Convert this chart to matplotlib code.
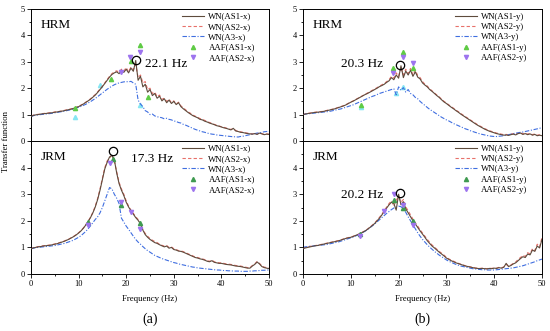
import numpy as np
import matplotlib
matplotlib.use("Agg")
from matplotlib import pyplot as plt
from matplotlib.ticker import MultipleLocator

plt.rcParams['font.family'] = ['Liberation Serif', 'DejaVu Serif']

# frequency grid of the white noise curves (Hz)
freq = np.arange(0, 50.25, 0.5)

# ---- (a) top: HRM, x direction
hrm_x_as1 = [0.93, 0.97, 0.99, 1.00, 1.02, 1.03, 1.04, 1.05, 1.06, 1.07,
             1.09, 1.10, 1.12, 1.13, 1.15, 1.17, 1.19, 1.21, 1.24, 1.27,
             1.30, 1.35, 1.40, 1.46, 1.52, 1.58, 1.66, 1.74, 1.84, 1.95,
             2.06, 2.18, 2.30, 2.42, 2.52, 2.58, 2.62, 2.55, 2.68, 2.60,
             2.72, 2.58, 2.76, 2.64, 3.05, 2.30, 2.45, 2.05, 2.15, 1.85,
             1.95, 1.72, 1.80, 1.62, 1.70, 1.52, 1.60, 1.45, 1.55, 1.42,
             1.50, 1.38, 1.45, 1.30, 1.22, 1.15, 1.08, 1.02, 0.96, 0.92,
             0.88, 0.82, 0.80, 0.75, 0.72, 0.68, 0.65, 0.62, 0.58, 0.56,
             0.53, 0.50, 0.48, 0.45, 0.42, 0.48, 0.38, 0.36, 0.33, 0.32,
             0.30, 0.28, 0.27, 0.26, 0.28, 0.25, 0.30, 0.27, 0.24, 0.26,
             0.25]
hrm_x_as2 = [0.95, 0.98, 1.00, 1.01, 1.02, 1.04, 1.05, 1.06, 1.07, 1.08,
             1.10, 1.11, 1.12, 1.14, 1.16, 1.18, 1.20, 1.22, 1.25, 1.28,
             1.32, 1.36, 1.41, 1.47, 1.53, 1.60, 1.68, 1.76, 1.86, 1.97,
             2.08, 2.20, 2.33, 2.45, 2.55, 2.62, 2.66, 2.60, 2.72, 2.65,
             2.78, 2.62, 2.80, 2.70, 2.90, 2.40, 2.50, 2.20, 2.25, 1.95,
             2.00, 1.80, 1.85, 1.68, 1.74, 1.58, 1.62, 1.50, 1.58, 1.45,
             1.52, 1.40, 1.47, 1.33, 1.25, 1.18, 1.10, 1.05, 0.98, 0.94,
             0.90, 0.85, 0.82, 0.78, 0.74, 0.70, 0.67, 0.63, 0.60, 0.57,
             0.54, 0.52, 0.49, 0.46, 0.44, 0.46, 0.40, 0.37, 0.35, 0.33,
             0.31, 0.30, 0.28, 0.27, 0.29, 0.26, 0.31, 0.28, 0.25, 0.27,
             0.26]
hrm_x_a3 = [0.92, 0.96, 0.98, 0.99, 1.00, 1.01, 1.02, 1.03, 1.04, 1.05,
            1.07, 1.08, 1.10, 1.11, 1.13, 1.15, 1.17, 1.19, 1.22, 1.25,
            1.28, 1.31, 1.35, 1.39, 1.44, 1.49, 1.55, 1.61, 1.68, 1.75,
            1.82, 1.89, 1.96, 2.02, 2.08, 2.13, 2.17, 2.20, 2.22, 2.24,
            2.25, 2.24, 2.26, 2.20, 2.15, 1.55, 1.40, 1.30, 1.15, 1.10,
            1.00, 1.02, 0.95, 0.92, 0.90, 0.88, 0.84, 0.86, 0.82, 0.80,
            0.76, 0.74, 0.70, 0.68, 0.63, 0.60, 0.56, 0.52, 0.48, 0.44,
            0.41, 0.38, 0.35, 0.33, 0.30, 0.28, 0.26, 0.25, 0.23, 0.22,
            0.21, 0.20, 0.19, 0.18, 0.17, 0.16, 0.16, 0.15, 0.17, 0.18,
            0.20, 0.22, 0.24, 0.26, 0.28, 0.30, 0.31, 0.33, 0.35, 0.36,
            0.36]
hrm_x_aaf1_f = [9.2, 16.9, 21.1, 22.9, 24.6]
hrm_x_aaf1 = [1.24, 2.33, 3.04, 3.64, 1.68]
hrm_x_aaf2_f = [19.0, 20.8, 22.9]
hrm_x_aaf2 = [2.63, 3.20, 3.38]
hrm_x_aaf3_f = [9.2, 14.5, 22.9]
hrm_x_aaf3 = [0.90, 2.12, 1.35]

# ---- (a) bottom: JRM, x direction
jrm_x_as1 = [0.95, 0.98, 1.00, 1.02, 1.03, 1.05, 1.06, 1.07, 1.08, 1.10,
             1.12, 1.14, 1.17, 1.20, 1.23, 1.27, 1.31, 1.36, 1.41, 1.47,
             1.54, 1.62, 1.72, 1.84, 1.97, 2.12, 2.30, 2.52, 2.80, 3.15,
             3.55, 3.95, 4.20, 4.40, 4.45, 4.30, 3.80, 3.40, 3.15, 2.95,
             2.70, 2.52, 2.38, 2.25, 2.12, 2.02, 1.88, 1.65, 1.48, 1.38,
             1.30, 1.24, 1.18, 1.15, 1.10, 1.06, 1.02, 1.05, 0.97, 1.00,
             0.92, 0.90, 0.86, 0.85, 0.82, 0.78, 0.74, 0.70, 0.66, 0.62,
             0.60, 0.57, 0.55, 0.52, 0.48, 0.46, 0.50, 0.44, 0.42, 0.40,
             0.40, 0.38, 0.36, 0.35, 0.34, 0.32, 0.30, 0.29, 0.28, 0.26,
             0.24, 0.22, 0.22, 0.30, 0.36, 0.45, 0.38, 0.28, 0.24, 0.22,
             0.20]
jrm_x_as2 = [0.96, 0.99, 1.01, 1.03, 1.04, 1.06, 1.07, 1.08, 1.09, 1.11,
             1.13, 1.15, 1.18, 1.21, 1.24, 1.28, 1.32, 1.37, 1.42, 1.48,
             1.55, 1.63, 1.73, 1.85, 1.98, 2.14, 2.32, 2.55, 2.84, 3.20,
             3.60, 4.00, 4.25, 4.35, 4.50, 4.25, 3.85, 3.45, 3.20, 3.00,
             2.75, 2.55, 2.40, 2.28, 2.15, 2.05, 1.90, 1.68, 1.52, 1.42,
             1.33, 1.27, 1.22, 1.18, 1.12, 1.08, 1.05, 1.07, 1.00, 1.02,
             0.95, 0.92, 0.88, 0.87, 0.84, 0.80, 0.76, 0.72, 0.68, 0.64,
             0.62, 0.59, 0.57, 0.54, 0.50, 0.48, 0.52, 0.46, 0.44, 0.42,
             0.42, 0.40, 0.38, 0.37, 0.36, 0.34, 0.32, 0.31, 0.30, 0.28,
             0.26, 0.24, 0.24, 0.32, 0.38, 0.47, 0.40, 0.30, 0.26, 0.24,
             0.22]
jrm_x_a3 = [0.95, 0.97, 0.99, 1.00, 1.01, 1.02, 1.03, 1.04, 1.05, 1.06,
            1.07, 1.09, 1.11, 1.13, 1.15, 1.18, 1.21, 1.24, 1.28, 1.33,
            1.38, 1.44, 1.52, 1.60, 1.70, 1.81, 1.93, 2.05, 2.15, 2.30,
            2.50, 2.75, 3.00, 3.25, 3.20, 3.00, 2.85, 2.65, 2.10, 1.95,
            1.80, 1.68, 1.55, 1.42, 1.30, 1.20, 1.12, 1.03, 0.95, 0.88,
            0.82, 0.76, 0.70, 0.66, 0.62, 0.58, 0.55, 0.52, 0.49, 0.46,
            0.43, 0.41, 0.38, 0.36, 0.34, 0.32, 0.30, 0.28, 0.26, 0.25,
            0.23, 0.22, 0.21, 0.20, 0.19, 0.18, 0.17, 0.16, 0.15, 0.15,
            0.14, 0.13, 0.13, 0.12, 0.12, 0.11, 0.11, 0.11, 0.10, 0.10,
            0.10, 0.10, 0.11, 0.11, 0.12, 0.12, 0.13, 0.14, 0.14, 0.15,
            0.15]
jrm_x_aaf1_f = [12.0, 17.2, 19.0, 23.0]
jrm_x_aaf1 = [1.97, 4.32, 2.60, 1.90]
jrm_x_aaf2_f = [12.0, 16.6, 19.0, 21.0, 23.0]
jrm_x_aaf2 = [1.85, 4.17, 2.69, 2.34, 1.69]

# ---- (b) top: HRM, y direction
hrm_y_as1 = [1.00, 1.02, 1.04, 1.05, 1.07, 1.08, 1.09, 1.10, 1.11, 1.13,
             1.15, 1.17, 1.19, 1.21, 1.24, 1.27, 1.30, 1.33, 1.37, 1.42,
             1.47, 1.51, 1.56, 1.61, 1.66, 1.71, 1.76, 1.80, 1.85, 1.90,
             1.95, 2.00, 2.06, 2.10, 2.15, 2.22, 2.28, 2.40, 2.32, 2.50,
             2.38, 2.85, 2.40, 2.65, 2.50, 2.68, 2.45, 2.62, 2.42, 2.35,
             2.20, 2.12, 2.05, 1.95, 1.88, 1.80, 1.72, 1.65, 1.56, 1.48,
             1.42, 1.35, 1.28, 1.22, 1.15, 1.09, 1.02, 0.96, 0.90, 0.84,
             0.78, 0.72, 0.66, 0.60, 0.55, 0.50, 0.45, 0.41, 0.37, 0.34,
             0.31, 0.28, 0.26, 0.24, 0.22, 0.23, 0.21, 0.24, 0.26, 0.23,
             0.28, 0.30, 0.25, 0.28, 0.24, 0.27, 0.22, 0.25, 0.20, 0.22,
             0.20]
hrm_y_as2 = [1.01, 1.03, 1.05, 1.06, 1.08, 1.09, 1.10, 1.11, 1.12, 1.14,
             1.16, 1.18, 1.20, 1.22, 1.25, 1.28, 1.31, 1.34, 1.38, 1.43,
             1.48, 1.52, 1.57, 1.62, 1.67, 1.72, 1.77, 1.82, 1.87, 1.92,
             1.97, 2.02, 2.08, 2.13, 2.18, 2.25, 2.32, 2.45, 2.38, 2.58,
             2.45, 2.80, 2.50, 2.72, 2.55, 2.75, 2.50, 2.68, 2.48, 2.40,
             2.25, 2.15, 2.08, 1.98, 1.90, 1.82, 1.74, 1.67, 1.58, 1.50,
             1.44, 1.37, 1.30, 1.24, 1.17, 1.11, 1.04, 0.98, 0.92, 0.86,
             0.80, 0.74, 0.68, 0.62, 0.57, 0.52, 0.47, 0.43, 0.39, 0.36,
             0.33, 0.30, 0.28, 0.26, 0.24, 0.25, 0.23, 0.26, 0.28, 0.25,
             0.30, 0.32, 0.27, 0.30, 0.26, 0.29, 0.24, 0.27, 0.22, 0.24,
             0.22]
hrm_y_a3 = [1.00, 1.02, 1.03, 1.04, 1.05, 1.06, 1.07, 1.08, 1.09, 1.10,
            1.11, 1.12, 1.14, 1.16, 1.18, 1.20, 1.22, 1.25, 1.28, 1.31,
            1.34, 1.37, 1.41, 1.45, 1.49, 1.53, 1.57, 1.61, 1.65, 1.69,
            1.72, 1.76, 1.80, 1.83, 1.86, 1.89, 1.92, 1.95, 1.98, 1.75,
            2.05, 1.92, 2.02, 1.85, 1.95, 1.80, 1.75, 1.65, 1.60, 1.50,
            1.42, 1.35, 1.27, 1.20, 1.14, 1.08, 1.02, 0.96, 0.90, 0.85,
            0.80, 0.76, 0.71, 0.66, 0.62, 0.58, 0.54, 0.50, 0.46, 0.43,
            0.39, 0.36, 0.33, 0.30, 0.27, 0.25, 0.23, 0.21, 0.19, 0.18,
            0.17, 0.17, 0.18, 0.19, 0.20, 0.22, 0.24, 0.26, 0.28, 0.30,
            0.31, 0.33, 0.34, 0.36, 0.38, 0.40, 0.42, 0.44, 0.46, 0.48,
            0.52]
hrm_y_aaf1_f = [12.2, 18.8, 20.9, 23.0]
hrm_y_aaf1 = [1.36, 2.75, 3.38, 2.75]
hrm_y_aaf2_f = [18.8, 20.9, 23.0]
hrm_y_aaf2 = [2.56, 3.20, 2.97]
hrm_y_aaf3_f = [12.2, 19.4, 20.9]
hrm_y_aaf3 = [1.30, 1.80, 2.05]

# ---- (b) bottom: JRM, y direction
jrm_y_as1 = [0.95, 0.98, 1.00, 1.02, 1.04, 1.06, 1.07, 1.09, 1.11, 1.13,
             1.15, 1.17, 1.19, 1.21, 1.23, 1.25, 1.28, 1.31, 1.34, 1.36,
             1.38, 1.41, 1.45, 1.48, 1.52, 1.57, 1.62, 1.68, 1.75, 1.82,
             1.90, 2.00, 2.10, 2.22, 2.35, 2.48, 2.60, 2.70, 2.65, 2.40,
             3.00, 2.60, 2.72, 2.45, 2.30, 2.15, 2.00, 1.88, 1.75, 1.62,
             1.50, 1.38, 1.25, 1.15, 1.05, 0.98, 0.90, 0.82, 0.75, 0.68,
             0.60, 0.55, 0.50, 0.46, 0.42, 0.39, 0.36, 0.33, 0.30, 0.28,
             0.26, 0.24, 0.22, 0.21, 0.20, 0.21, 0.20, 0.19, 0.21, 0.20,
             0.22, 0.21, 0.24, 0.22, 0.25, 0.40, 0.28, 0.32, 0.38, 0.42,
             0.50, 0.58, 0.65, 0.62, 0.75, 0.72, 0.90, 0.85, 1.05, 0.98,
             1.30]
jrm_y_as2 = [0.97, 1.00, 1.02, 1.04, 1.06, 1.07, 1.08, 1.10, 1.12, 1.14,
             1.16, 1.18, 1.20, 1.22, 1.24, 1.26, 1.29, 1.32, 1.35, 1.37,
             1.39, 1.42, 1.46, 1.49, 1.53, 1.58, 1.63, 1.69, 1.76, 1.84,
             1.92, 2.02, 2.13, 2.25, 2.38, 2.52, 2.65, 2.75, 2.55, 2.78,
             2.90, 2.70, 2.80, 2.52, 2.38, 2.22, 2.06, 1.92, 1.80, 1.66,
             1.54, 1.42, 1.30, 1.19, 1.09, 1.01, 0.93, 0.85, 0.78, 0.71,
             0.63, 0.57, 0.52, 0.48, 0.44, 0.40, 0.37, 0.34, 0.31, 0.29,
             0.27, 0.25, 0.23, 0.22, 0.21, 0.22, 0.21, 0.20, 0.22, 0.21,
             0.23, 0.22, 0.25, 0.23, 0.27, 0.36, 0.30, 0.34, 0.40, 0.45,
             0.55, 0.62, 0.70, 0.66, 0.80, 0.76, 0.95, 0.88, 1.12, 1.02,
             1.38]
jrm_y_a3 = [1.00, 1.02, 1.03, 1.04, 1.05, 1.06, 1.07, 1.08, 1.09, 1.10,
            1.11, 1.13, 1.15, 1.17, 1.19, 1.21, 1.24, 1.27, 1.30, 1.33,
            1.36, 1.39, 1.43, 1.47, 1.51, 1.56, 1.61, 1.67, 1.74, 1.81,
            1.88, 1.96, 2.04, 2.12, 2.20, 2.28, 2.35, 2.42, 2.48, 2.52,
            2.55, 2.53, 2.45, 2.32, 2.15, 2.00, 1.85, 1.70, 1.55, 1.42,
            1.30, 1.20, 1.10, 1.01, 0.93, 0.85, 0.78, 0.71, 0.65, 0.59,
            0.53, 0.48, 0.44, 0.40, 0.36, 0.33, 0.30, 0.28, 0.26, 0.24,
            0.22, 0.20, 0.19, 0.18, 0.17, 0.16, 0.16, 0.15, 0.15, 0.15,
            0.15, 0.16, 0.17, 0.18, 0.19, 0.20, 0.21, 0.22, 0.23, 0.25,
            0.27, 0.29, 0.31, 0.34, 0.37, 0.40, 0.43, 0.46, 0.50, 0.53,
            0.56]
jrm_y_aaf1_f = [12.0, 19.0, 21.0, 23.0]
jrm_y_aaf1 = [1.52, 2.80, 2.49, 2.00]
jrm_y_aaf2_f = [12.0, 17.0, 19.0, 21.0, 23.0]
jrm_y_aaf2 = [1.42, 2.36, 3.00, 2.60, 1.84]

# peak frequency (Hz), peak value
peak_hrm_x = (22.1, 3.05)
peak_jrm_x = (17.3, 4.62)
peak_hrm_y = (20.3, 2.88)
peak_jrm_y = (20.2, 3.03)

brown = '#5e4b3c'
red = '#e8706a'
blue = '#3f6ee0'
purple = '#9d74ee'
cyan = '#86e6f2'
green_top = '#5fcb45'
green_bot = '#3f9a50'

fig = plt.figure(figsize=(5.5, 3.31), dpi=100)
W, H = 550.0, 331.0


def panel(rect, model, d, as1, as2, a3, f1, y1, f2, y2, green,
          peak, note, note_xy, note_ha, f3=None, y3=None, bottom=False):
    x0, y0, x1, y1p = rect
    ax = fig.add_axes([x0 / W, 1 - y1p / H, (x1 - x0) / W, (y1p - y0) / H])
    ax.plot(freq, as1, color=brown, lw=0.8, label='WN(AS1-%s)' % d, zorder=3)
    ax.plot(freq, as2, color=red, lw=0.8, ls=(0, (3, 2)), label='WN(AS2-%s)' % d, zorder=2)
    ax.plot(freq, a3, color=blue, lw=0.8, ls=(0, (4, 1.5, 1, 1.5)), label='WN(A3-%s)' % d, zorder=2)
    if f3 is not None:
        ax.plot(f3, y3, ls='none', marker='^', ms=3, color=cyan, zorder=1)
    ax.plot(f1, y1, ls='none', marker='^', ms=3, color=green, label='AAF(AS1-%s)' % d, zorder=4)
    ax.plot(f2, y2, ls='none', marker='v', ms=3, color=purple, label='AAF(AS2-%s)' % d, zorder=4)
    ax.plot([peak[0]], [peak[1]], ls='none', marker='o', ms=6, mfc='none',
            mec='black', mew=0.9, zorder=5)
    ax.text(note_xy[0], note_xy[1], note, ha=note_ha, va='center', fontsize=9.5)
    ax.text(0.04, 0.88, model, transform=ax.transAxes, ha='left', va='center', fontsize=9.5)

    ax.set_xlim(0, 50)
    ax.set_ylim(0, 5)
    ax.xaxis.set_major_locator(MultipleLocator(10))
    ax.xaxis.set_minor_locator(MultipleLocator(5))
    ax.yaxis.set_minor_locator(MultipleLocator(0.5))
    ax.tick_params(which='both', direction='out', labelsize=6, pad=1.5, width=0.6)
    ax.tick_params(which='major', length=3)
    ax.tick_params(which='minor', length=1.6)
    for s in ax.spines.values():
        s.set_linewidth(0.7)
    if bottom:
        ax.set_yticks([0, 1, 2, 3, 4])
        ax.set_xlabel('Frequency (Hz)', fontsize=6.3, labelpad=5)
    else:
        ax.set_yticks([0, 1, 2, 3, 4, 5])
        ax.tick_params(axis='x', labelbottom=False)
    ax.legend(loc='upper right', bbox_to_anchor=(0.955, 1.0), frameon=False,
              fontsize=6.3, handlelength=2.5, handletextpad=0.5,
              labelspacing=0.25, borderaxespad=0.2, borderpad=0.2)
    return ax


panel((31, 9, 269, 141), 'HRM', 'x', hrm_x_as1, hrm_x_as2, hrm_x_a3,
      hrm_x_aaf1_f, hrm_x_aaf1, hrm_x_aaf2_f, hrm_x_aaf2, green_top,
      peak_hrm_x, '22.1 Hz', (24.0, 2.93), 'left', hrm_x_aaf3_f, hrm_x_aaf3)
panel((31, 141, 269, 274), 'JRM', 'x', jrm_x_as1, jrm_x_as2, jrm_x_a3,
      jrm_x_aaf1_f, jrm_x_aaf1, jrm_x_aaf2_f, jrm_x_aaf2, green_bot,
      peak_jrm_x, '17.3 Hz', (21.1, 4.34), 'left', bottom=True)
panel((303, 9, 542, 141), 'HRM', 'y', hrm_y_as1, hrm_y_as2, hrm_y_a3,
      hrm_y_aaf1_f, hrm_y_aaf1, hrm_y_aaf2_f, hrm_y_aaf2, green_top,
      peak_hrm_y, '20.3 Hz', (16.8, 2.92), 'right', hrm_y_aaf3_f, hrm_y_aaf3)
panel((303, 141, 542, 274), 'JRM', 'y', jrm_y_as1, jrm_y_as2, jrm_y_a3,
      jrm_y_aaf1_f, jrm_y_aaf1, jrm_y_aaf2_f, jrm_y_aaf2, green_bot,
      peak_jrm_y, '20.2 Hz', (16.8, 2.96), 'right', bottom=True)

fig.text(6 / W, 1 - 141 / H, 'Transfer function', rotation=90, ha='center',
         va='center', fontsize=6.3)
fig.text(150 / W, 1 - 319 / H, '(a)', ha='center', va='center', fontsize=10)
fig.text(422 / W, 1 - 319 / H, '(b)', ha='center', va='center', fontsize=10)

fig.savefig('out.png', dpi=100)
